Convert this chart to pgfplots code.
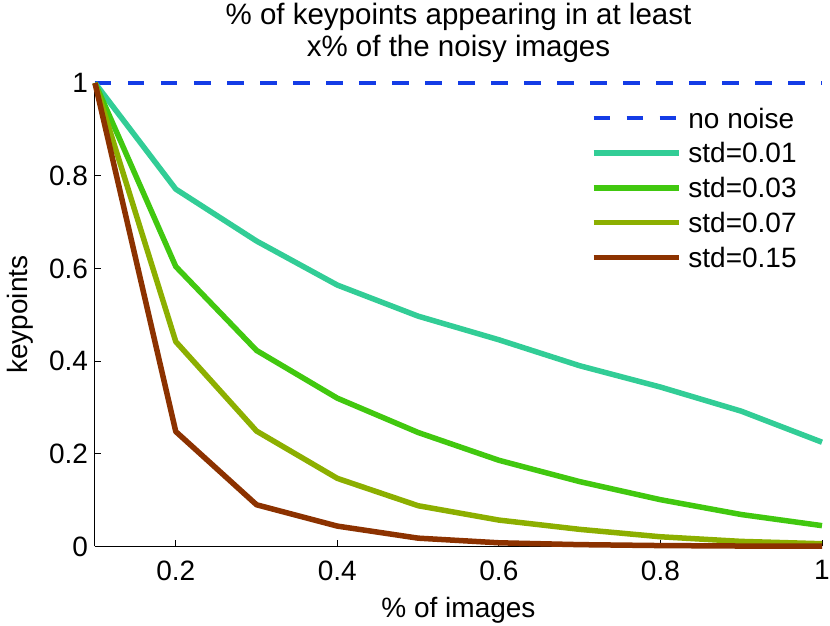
\documentclass[border=0pt]{standalone}
\usepackage{pgfplots}
\pgfplotsset{compat=1.18}
\usepackage{fontspec}
\setmainfont{Liberation Sans}
\definecolor{cblue}{RGB}{20,60,230}
\definecolor{cteal}{RGB}{50,205,150}
\definecolor{cgreen}{RGB}{65,200,15}
\definecolor{colive}{RGB}{140,175,0}
\definecolor{cbrown}{RGB}{140,50,0}
\begin{document}
\begin{tikzpicture}
\path[use as bounding box] (0,0) rectangle (415pt,313pt);
\begin{axis}[
  at={(47.5pt,39.75pt)}, anchor=south west,
  scale only axis, width=363.5pt, height=231.75pt,
  xmin=0.1, xmax=1, ymin=0, ymax=1,
  axis x line*=bottom, axis y line*=left,
  axis line style={-, black, line width=0.5pt},
  every outer x axis line/.append style={-},
  every outer y axis line/.append style={-},
  xtick={0.2,0.4,0.6,0.8,1}, ytick={0,0.2,0.4,0.6,0.8,1},
  tick align=inside, major tick length=3pt,
  tick style={black, line width=0.5pt},
  /pgf/number format/assume math mode=true,
  tick label style={font=\fontsize{14}{15}\selectfont},
  xticklabel style={yshift=-3.5pt},
  xlabel={\% of images}, ylabel={keypoints},
  label style={font=\fontsize{14}{15}\selectfont},
  xlabel style={at={(axis description cs:0.5,-0.108)}, anchor=north, inner sep=0pt},
  ylabel style={at={(axis description cs:-0.121,0.5)}, anchor=north, inner sep=0pt},
  title={\% of keypoints appearing in at least\\x\% of the noisy images},
  title style={at={(axis description cs:0.5,1.147)}, anchor=north, inner sep=0pt, align=center, font=\fontsize{14.75}{16}\selectfont},
  clip=false,
  legend image code/.code={\draw[#1] (0pt,0pt) -- (42.5pt,0pt);},
  legend style={at={(axis description cs:0.6816,0.946)}, anchor=north west,
    draw=none, fill=none, inner sep=0pt, row sep=7.6pt, column sep=3.5pt,
    nodes={inner sep=0pt, text height=9.8pt, text depth=0pt},
    font=\fontsize{14}{15}\selectfont},
  legend cell align=left,
  every axis plot/.append style={line join=round},
]
\addplot[cblue, line width=1.75pt, dash pattern=on 8.25pt off 8.25pt] coordinates {
 (0.1,1) (0.2,1) (0.3,1) (0.4,1) (0.5,1) (0.6,1) (0.7,1) (0.8,1) (0.9,1) (1.0,1)};
\addlegendentry{no noise}
\addplot[cteal, line width=2.75pt] coordinates {
 (0.1,1) (0.2,0.771) (0.3,0.659) (0.4,0.564) (0.5,0.497) (0.6,0.446) (0.7,0.390) (0.8,0.344) (0.9,0.292) (1.0,0.225)};
\addlegendentry{std=0.01}
\addplot[cgreen, line width=2.75pt] coordinates {
 (0.1,1) (0.2,0.604) (0.3,0.423) (0.4,0.320) (0.5,0.246) (0.6,0.186) (0.7,0.140) (0.8,0.101) (0.9,0.069) (1.0,0.045)};
\addlegendentry{std=0.03}
\addplot[colive, line width=2.75pt] coordinates {
 (0.1,1) (0.2,0.442) (0.3,0.249) (0.4,0.147) (0.5,0.088) (0.6,0.057) (0.7,0.037) (0.8,0.021) (0.9,0.011) (1.0,0.006)};
\addlegendentry{std=0.07}
\addplot[cbrown, line width=2.75pt] coordinates {
 (0.1,1) (0.2,0.248) (0.3,0.090) (0.4,0.044) (0.5,0.018) (0.6,0.008) (0.7,0.004) (0.8,0.002) (0.9,0.001) (1.0,0.001)};
\addlegendentry{std=0.15}
\end{axis}
\end{tikzpicture}
\end{document}
